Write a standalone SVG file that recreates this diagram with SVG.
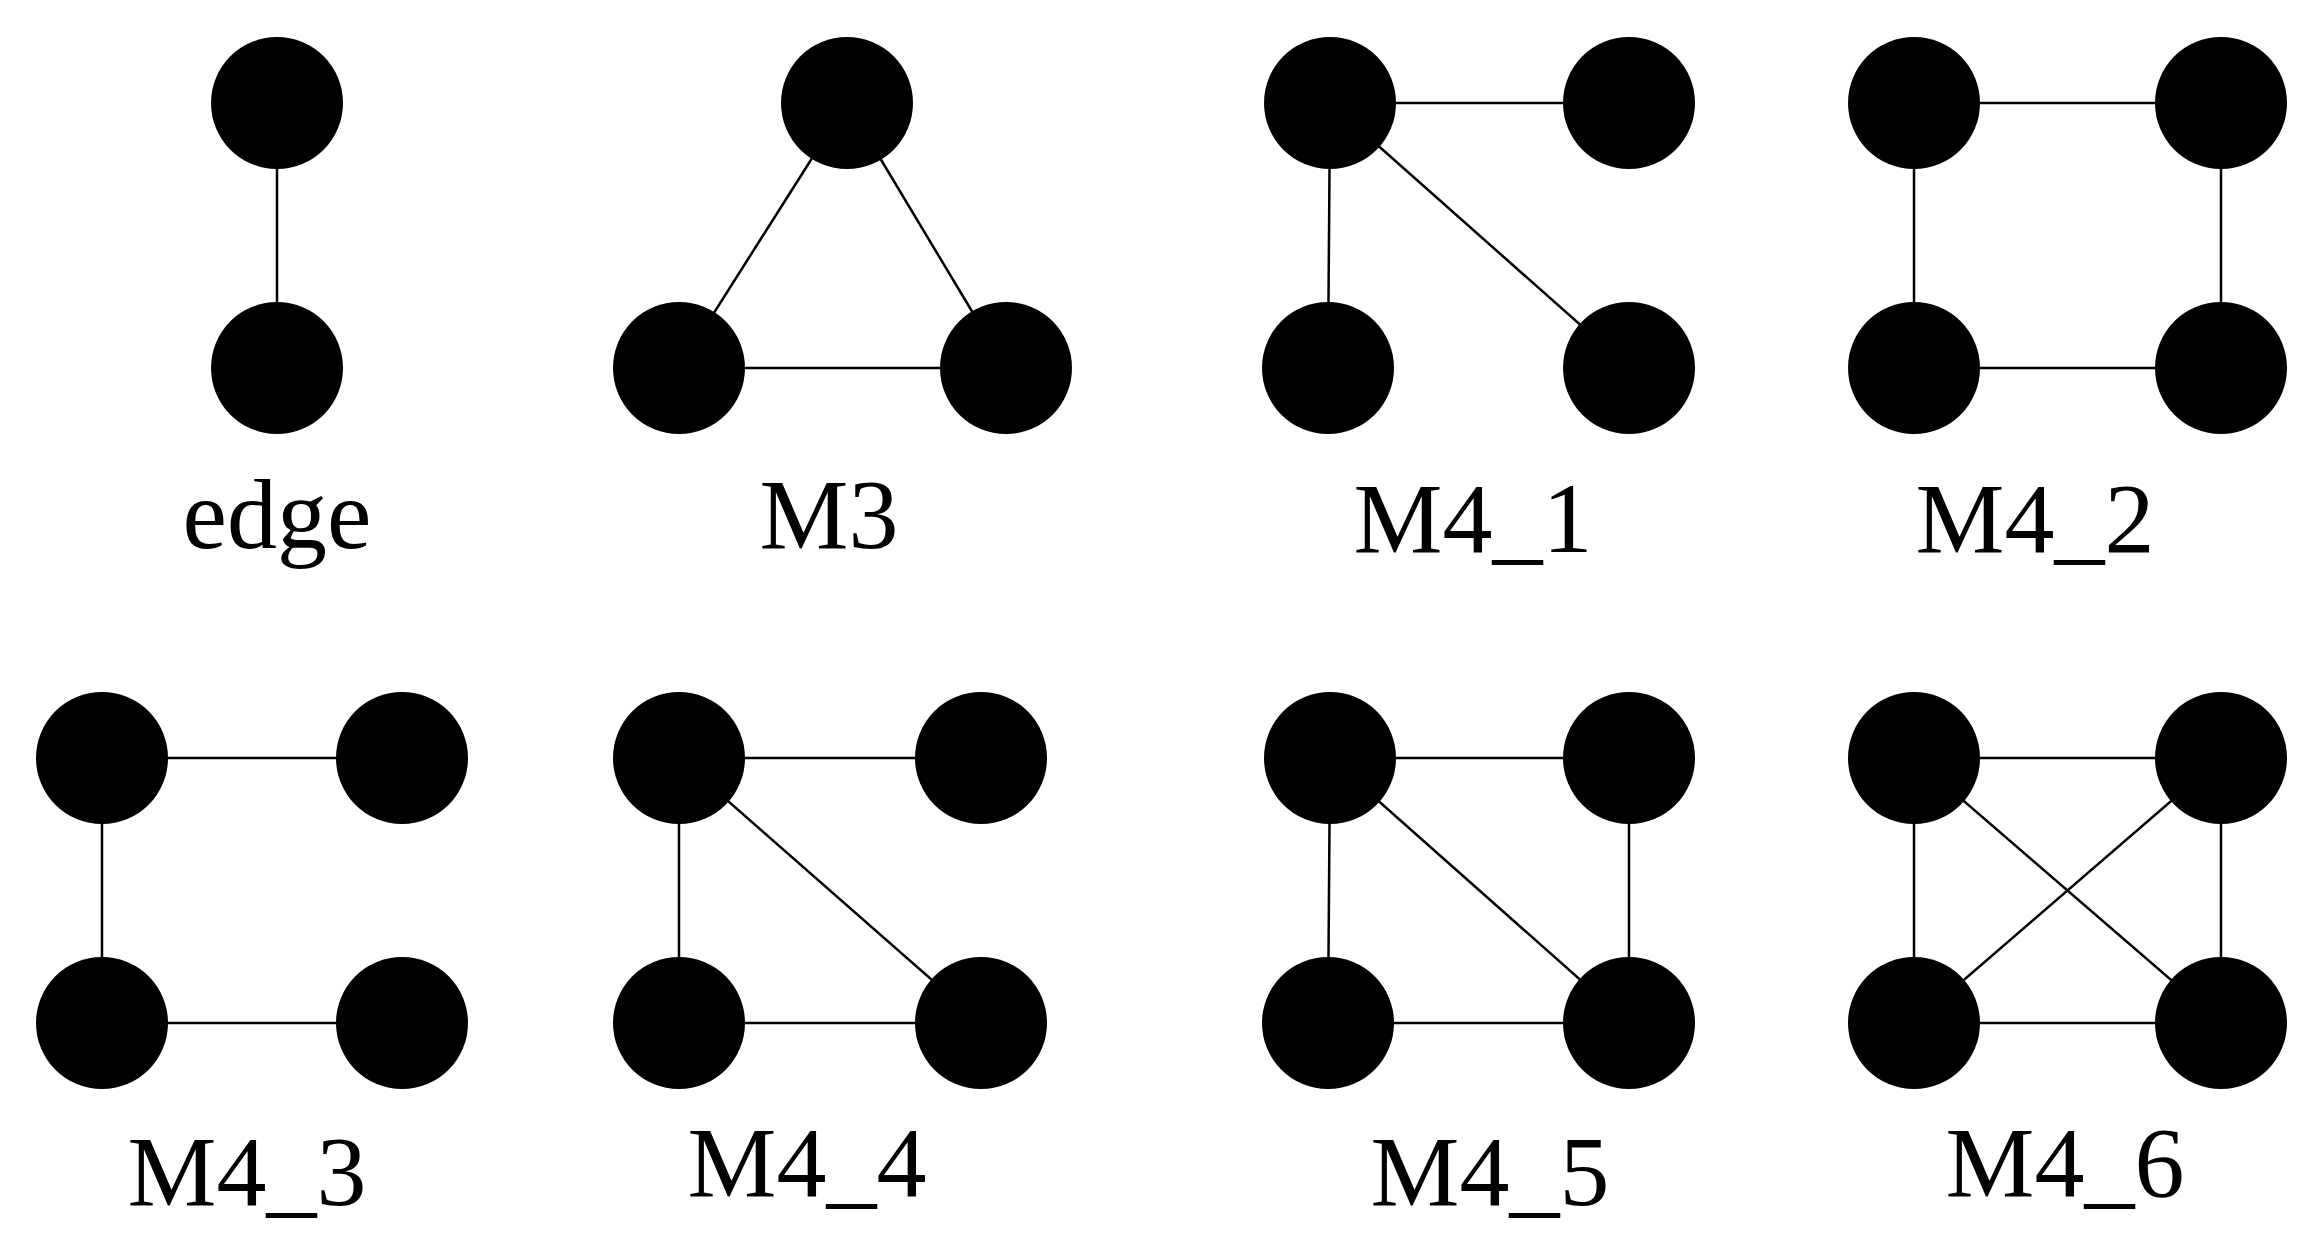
<svg xmlns="http://www.w3.org/2000/svg" width="2309" height="1253" viewBox="0 0 2309 1253">
<style>
.n{fill:#000}
.e line{stroke:#000;stroke-width:2.5}
.t{font-family:"Liberation Serif",serif;font-size:100px;text-anchor:middle;fill:#000}
</style>
<rect width="2309" height="1253" fill="#fff"/>
<g id="connectors" class="e">
<line x1="277" y1="103" x2="277" y2="368"/>
<line x1="847" y1="103" x2="679" y2="368"/><line x1="847" y1="103" x2="1006" y2="368"/><line x1="679" y1="368" x2="1006" y2="368"/>
<line x1="1330" y1="103" x2="1629" y2="103"/><line x1="1330" y1="103" x2="1328" y2="368"/><line x1="1330" y1="103" x2="1629" y2="368"/>
<line x1="1914" y1="103" x2="2221" y2="103"/><line x1="1914" y1="103" x2="1914" y2="368"/><line x1="2221" y1="103" x2="2221" y2="368"/><line x1="1914" y1="368" x2="2221" y2="368"/>
<line x1="102" y1="758" x2="402" y2="758"/><line x1="102" y1="758" x2="102" y2="1023"/><line x1="102" y1="1023" x2="402" y2="1023"/>
<line x1="679" y1="758" x2="981" y2="758"/><line x1="679" y1="758" x2="679" y2="1023"/><line x1="679" y1="758" x2="981" y2="1023"/><line x1="679" y1="1023" x2="981" y2="1023"/>
<line x1="1330" y1="758" x2="1629" y2="758"/><line x1="1330" y1="758" x2="1328" y2="1023"/><line x1="1330" y1="758" x2="1629" y2="1023"/><line x1="1629" y1="758" x2="1629" y2="1023"/><line x1="1328" y1="1023" x2="1629" y2="1023"/>
<line x1="1914" y1="758" x2="2221" y2="758"/><line x1="1914" y1="758" x2="1914" y2="1023"/><line x1="2221" y1="758" x2="2221" y2="1023"/><line x1="1914" y1="1023" x2="2221" y2="1023"/><line x1="1914" y1="758" x2="2221" y2="1023"/><line x1="2221" y1="758" x2="1914" y2="1023"/>
</g>
<g id="edge"><circle class="n" cx="277" cy="103" r="66"/><circle class="n" cx="277" cy="368" r="66"/><text class="t" x="277" y="548">edge</text></g>
<g id="M3"><circle class="n" cx="847" cy="103" r="66"/><circle class="n" cx="679" cy="368" r="66"/><circle class="n" cx="1006" cy="368" r="66"/><text class="t" x="829" y="548">M3</text></g>
<g id="M4_1"><circle class="n" cx="1330" cy="103" r="66"/><circle class="n" cx="1629" cy="103" r="66"/><circle class="n" cx="1328" cy="368" r="66"/><circle class="n" cx="1629" cy="368" r="66"/><text class="t" x="1473" y="552">M4_1</text></g>
<g id="M4_2"><circle class="n" cx="1914" cy="103" r="66"/><circle class="n" cx="2221" cy="103" r="66"/><circle class="n" cx="1914" cy="368" r="66"/><circle class="n" cx="2221" cy="368" r="66"/><text class="t" x="2035" y="552">M4_2</text></g>
<g id="M4_3"><circle class="n" cx="102" cy="758" r="66"/><circle class="n" cx="402" cy="758" r="66"/><circle class="n" cx="102" cy="1023" r="66"/><circle class="n" cx="402" cy="1023" r="66"/><text class="t" x="247" y="1205">M4_3</text></g>
<g id="M4_4"><circle class="n" cx="679" cy="758" r="66"/><circle class="n" cx="981" cy="758" r="66"/><circle class="n" cx="679" cy="1023" r="66"/><circle class="n" cx="981" cy="1023" r="66"/><text class="t" x="807" y="1196">M4_4</text></g>
<g id="M4_5"><circle class="n" cx="1330" cy="758" r="66"/><circle class="n" cx="1629" cy="758" r="66"/><circle class="n" cx="1328" cy="1023" r="66"/><circle class="n" cx="1629" cy="1023" r="66"/><text class="t" x="1490" y="1205">M4_5</text></g>
<g id="M4_6"><circle class="n" cx="1914" cy="758" r="66"/><circle class="n" cx="2221" cy="758" r="66"/><circle class="n" cx="1914" cy="1023" r="66"/><circle class="n" cx="2221" cy="1023" r="66"/><text class="t" x="2065" y="1196">M4_6</text></g>
</svg>
